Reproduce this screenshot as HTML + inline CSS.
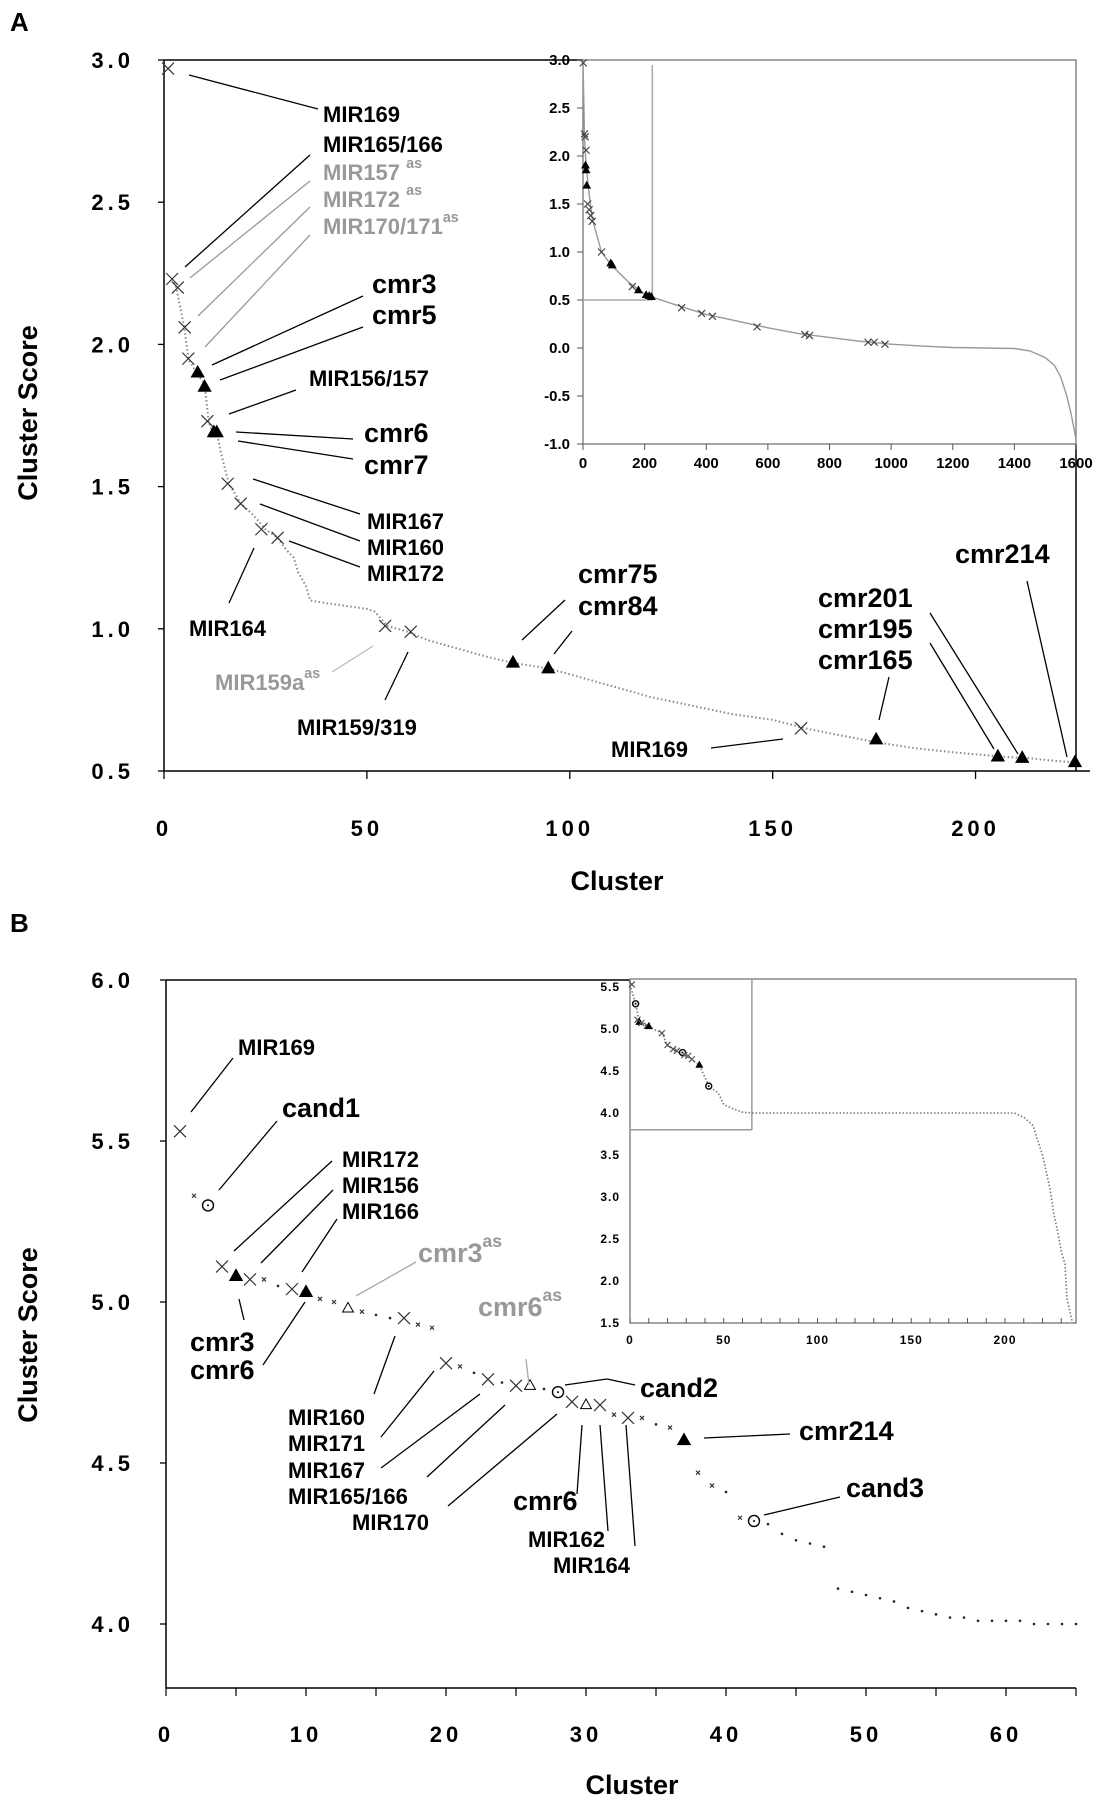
<!DOCTYPE html>
<html><head><meta charset="utf-8">
<style>
html,body{margin:0;padding:0;background:#fff}
svg{display:block}
text{font-family:"Liberation Sans",Arial,sans-serif;font-weight:bold}
</style></head>
<body>
<svg id="fig" width="1101" height="1800" viewBox="0 0 1101 1800" xmlns="http://www.w3.org/2000/svg"></svg>
<script>
// ---------- Panel A data ----------
const aCurveX = [2,3,5,6,8,10,11,12,13,14,16,19,22,25,28,30,32,33,35,36,40,45,50,52,55,60,65,70,75,80,86,95,100,110,120,130,140,150,158,165,176,185,195,207,213,220,225];
const aCurveY = [2.23,2.20,2.06,1.95,1.90,1.86,1.73,1.69,1.69,1.62,1.51,1.44,1.40,1.35,1.32,1.28,1.25,1.20,1.15,1.10,1.09,1.08,1.07,1.06,1.01,0.99,0.96,0.94,0.92,0.90,0.88,0.86,0.84,0.80,0.76,0.73,0.70,0.68,0.65,0.63,0.60,0.58,0.565,0.55,0.545,0.535,0.53];
const aCrossX = [1,2,3.4,5.1,6,10.7,15.7,18.9,24,28,54.5,60.8,157];
const aCrossY = [2.97,2.23,2.20,2.06,1.95,1.73,1.51,1.44,1.35,1.32,1.01,0.99,0.65];
const aTriX = [8.3,10,12.3,13,86,94.7,175.5,205.5,211.5,224.5];
const aTriY = [1.90,1.85,1.69,1.69,0.88,0.86,0.61,0.55,0.545,0.53];
const aXTicks = [0,50,100,150,200];
const aYTicks = [0.5,1.0,1.5,2.0,2.5,3.0];
// Panel A inset
const aiCurveX = [0,5,10,20,30,60,90,150,200,225,300,400,500,600,700,800,900,1000,1100,1200,1300,1400,1450,1500,1530,1550,1570,1585,1600];
const aiCurveY = [3.0,2.2,1.9,1.6,1.35,1.0,0.87,0.68,0.56,0.53,0.45,0.35,0.28,0.21,0.15,0.11,0.07,0.04,0.02,0.005,0.0,-0.005,-0.03,-0.1,-0.18,-0.3,-0.5,-0.7,-0.95];
const aiCrossX = [1,5,7,10,15,20,25,30,60,160,320,385,420,565,720,735,925,945,980];
const aiCrossY = [2.97,2.23,2.2,2.06,1.5,1.44,1.38,1.32,1.0,0.64,0.42,0.36,0.33,0.22,0.14,0.13,0.06,0.06,0.04];
const aiTriX = [8,10,12,90,95,180,205,215,222];
const aiTriY = [1.9,1.85,1.69,0.88,0.86,0.6,0.55,0.54,0.53];
const aiXTicks = [0,200,400,600,800,1000,1200,1400,1600];
const aiYTicks = [-1.0,-0.5,0.0,0.5,1.0,1.5,2.0,2.5,3.0];
// ---------- Panel B data ----------
const bX = [1,2,3,4,5,6,7,8,9,10,11,12,13,14,15,16,17,18,19,20,21,22,23,24,25,26,27,28,29,30,31,32,33,34,35,36,37,38,39,40,41,42,43,44,45,46,47,48,49,50,51,52,53,54,55,56,57,58,59,60,61,62,63,64,65];
const bY = [5.53,5.33,5.30,5.11,5.08,5.07,5.07,5.05,5.04,5.03,5.01,5.00,4.98,4.97,4.96,4.95,4.95,4.93,4.92,4.81,4.80,4.78,4.76,4.75,4.74,4.74,4.73,4.72,4.69,4.68,4.68,4.65,4.64,4.64,4.62,4.61,4.57,4.47,4.43,4.41,4.33,4.32,4.31,4.28,4.26,4.25,4.24,4.11,4.10,4.09,4.08,4.07,4.05,4.04,4.03,4.02,4.02,4.01,4.01,4.01,4.01,4.00,4.00,4.00,4.00];
const bType = ["X","x","o","X","T","X","x","d","X","T","x","x","t","x","d","d","X","x","x","X","x","d","X","d","X","t","d","o","X","t","X","x","X","x","d","x","T","x","x","d","x","o","d","d","d","d","d","d","d","d","d","d","d","d","d","d","d","d","d","d","d","d","d","d","d"];
const bXTicks = [0,10,20,30,40,50,60];
const bYTicks = [4.0,4.5,5.0,5.5,6.0];
// Panel B inset
const biCurveX = [0,3,5,10,17,20,25,30,37,42,47,50,55,60,65,100,150,200,205,210,215,217,220,222,224,226,228,230,232,233,236];
const biCurveY = [5.53,5.3,5.08,5.03,4.95,4.8,4.74,4.68,4.57,4.32,4.24,4.1,4.05,4.01,4.0,4.0,4.0,4.0,4.0,3.95,3.85,3.7,3.5,3.3,3.1,2.8,2.6,2.35,2.2,1.8,1.5];
const biXTicks = [0,50,100,150,200];
const biYTicks = [1.5,2.0,2.5,3.0,3.5,4.0,4.5,5.0,5.5];

const NS = "http://www.w3.org/2000/svg";
const svg = document.getElementById('fig');
const SM = 22, BG = 27;
function el(tag, attrs, parent, txt){
  const e = document.createElementNS(NS, tag);
  for (const k in attrs) e.setAttribute(k, attrs[k]);
  if (txt !== undefined) e.textContent = txt;
  (parent||svg).appendChild(e);
  return e;
}
function lin(d0,d1,r0,r1){return v=>r0+(v-d0)*(r1-r0)/(d1-d0);}
function cross(x,y,s,col,name,g){const p=el('path',{d:`M${x-s},${y-s}L${x+s},${y+s}M${x-s},${y+s}L${x+s},${y-s}`,stroke:col,'stroke-width':1.2,fill:'none'},g);

}
function tri(x,y,s,fill,name,g){const p=el('path',{d:`M${x},${y-s}L${x+s*0.9},${y+s*0.6}L${x-s*0.9},${y+s*0.6}Z`,fill:fill,stroke:'#000','stroke-width':1},g);

}
function circ(x,y,r,name,g){const p=el('circle',{cx:x,cy:y,r:r,fill:'#fff',stroke:'#000','stroke-width':1.4},g);


el('circle',{cx:x,cy:y,r:1,fill:'#000'},g);}
function line(x1,y1,x2,y2,col,w,name){const l=el('line',{x1,y1,x2,y2,stroke:col,'stroke-width':w||1.3});

return l;}
function label(x,y,t,size,col,sup,name){
  const tx=el('text',{x:x,y:y,'font-size':size,fill:col||'#000'},svg,t);
  
  
  if(sup){el('tspan',{dy:-size*0.55,'font-size':size*0.65},tx,sup);}
  return tx;
}
function path(xs,ys,fx,fy){return xs.map((v,i)=>(i?'L':'M')+fx(v).toFixed(1)+','+fy(ys[i]).toFixed(1)).join('');}

// ================= PANEL A =================
label(10,31,'A',26,'#000',null,'panel-a-label');
const ax = lin(0,225,164,1077), ay = lin(0.5,3.0,771,60);
line(164,60,164,771,'#000',1.5,'a-y-axis');
line(164,771,1090,771,'#000',1.5,'a-x-axis');
line(164,60,583,60,'#000',1.5,'a-top-border');
line(1076,444,1076,771,'#000',1.5,'a-right-border');
aXTicks.forEach(v=>{line(ax(v),771,ax(v),779,'#000',1.3,'a-x-tick');
 const t=el('text',{x:ax(v),y:836,'font-size':22,'text-anchor':'middle','letter-spacing':4},svg,v);
 
 });
aYTicks.forEach(v=>{line(158,ay(v),164,ay(v),'#000',1.3,'a-y-tick');
 const t=el('text',{x:134,y:ay(v)+8,'font-size':22,'text-anchor':'end','letter-spacing':4},svg,v.toFixed(1));
 
 });
let t1=el('text',{x:617,y:890,'font-size':27,'text-anchor':'middle'},svg,'Cluster');


let t2=el('text',{x:0,y:0,'font-size':27,'text-anchor':'middle',transform:'translate(37,413) rotate(-90)'},svg,'Cluster Score');


const gA = el('g',{});


let pa=el('path',{d:path(aCurveX,aCurveY,ax,ay),fill:'none',stroke:'#888','stroke-width':2,'stroke-dasharray':'1.5 2.5'},gA);


aCrossX.forEach((v,i)=>cross(ax(v),ay(aCrossY[i]),6,'#333','a-mir-marker',gA));
aTriX.forEach((v,i)=>tri(ax(v),ay(aTriY[i]),7,'#000','a-cmr-marker',gA));

// inset A
const iax = lin(0,1600,583,1076), iay = lin(-1,3,444,60);
let ib=el('rect',{x:583,y:60,width:493,height:384,fill:'#fff',stroke:'#777','stroke-width':1.3});


line(iax(225),65,iax(225),iay(0.5),'#aaa',1.5,'a-inset-zoom-vline');
line(583,iay(0.5),iax(225),iay(0.5),'#aaa',1.5,'a-inset-zoom-hline');
aiXTicks.forEach(v=>{line(iax(v),444,iax(v),450,'#555',1,'a-inset-x-tick');
 const t=el('text',{x:iax(v),y:468,'font-size':15,'text-anchor':'middle'},svg,v);
 
 });
aiYTicks.forEach(v=>{line(577,iay(v),583,iay(v),'#555',1,'a-inset-y-tick');
 const t=el('text',{x:570,y:iay(v)+5,'font-size':15,'text-anchor':'end'},svg,v.toFixed(1));
 
 });
const gAi = el('g',{});


let pai=el('path',{d:path(aiCurveX,aiCurveY,iax,iay),fill:'none',stroke:'#999','stroke-width':1.4},gAi);


aiCrossX.forEach((v,i)=>cross(iax(v),iay(aiCrossY[i]),3.5,'#444','a-inset-mir-marker',gAi));
aiTriX.forEach((v,i)=>tri(iax(v),iay(aiTriY[i]),4,'#000','a-inset-cmr-marker',gAi));

// labels A
const G='#999';
line(189,75,318,109,'#000');
label(323,122,'MIR169',SM,'#000',null,'label-mir169');
line(185,267,310,155,'#000');
label(323,152,'MIR165/166',SM,'#000',null,'label-mir165-166');
line(190,278,310,181,G);
label(323,180,'MIR157 ',SM,G,'as','label-mir157as');
line(198,316,310,207,G);
label(323,207,'MIR172 ',SM,G,'as','label-mir172as');
line(205,347,310,235,G);
label(323,234,'MIR170/171',SM,G,'as','label-mir170-171as');
line(212,365,363,296,'#000');
label(372,293,'cmr3',BG,'#000',null,'label-cmr3');
line(220,380,363,327,'#000');
label(372,324,'cmr5',BG,'#000',null,'label-cmr5');
line(229,414,296,390,'#000');
label(309,386,'MIR156/157',SM,'#000',null,'label-mir156-157');
line(236,432,353,439,'#000');
label(364,442,'cmr6',BG,'#000',null,'label-cmr6');
line(238,441,353,459,'#000');
label(364,474,'cmr7',BG,'#000',null,'label-cmr7');
line(253,479,360,514,'#000');
label(367,529,'MIR167',SM,'#000',null,'label-mir167');
line(260,504,360,541,'#000');
label(367,555,'MIR160',SM,'#000',null,'label-mir160');
line(289,541,360,567,'#000');
label(367,581,'MIR172',SM,'#000',null,'label-mir172');
line(254,548,229,603,'#000');
label(189,636,'MIR164',SM,'#000',null,'label-mir164');
line(522,640,565,600,'#000');
label(578,583,'cmr75',BG,'#000',null,'label-cmr75');
line(554,654,572,631,'#000');
label(578,615,'cmr84',BG,'#000',null,'label-cmr84');
line(373,646,332,672,'#bbb');
label(215,690,'MIR159a',SM,G,'as','label-mir159a-as');
line(408,652,385,700,'#000');
label(297,735,'MIR159/319',SM,'#000',null,'label-mir159-319');
line(711,748,783,739,'#000');
label(611,757,'MIR169',SM,'#000',null,'label-mir169-b');
label(818,607,'cmr201',BG,'#000',null,'label-cmr201');
label(818,638,'cmr195',BG,'#000',null,'label-cmr195');
label(818,669,'cmr165',BG,'#000',null,'label-cmr165');
line(879,720,889,677,'#000');
line(994,749,930,643,'#000');
line(1018,754,930,613,'#000');
line(1067,757,1027,581,'#000');
label(955,563,'cmr214',BG,'#000',null,'label-cmr214');

// ================= PANEL B =================
label(10,932,'B',26,'#000',null,'panel-b-label');
const bx = lin(0,65,166,1076), by = lin(4.0,6.0,1624,980);
line(166,980,166,1688,'#000',1.5,'b-y-axis');
line(166,1688,1076,1688,'#000',1.5,'b-x-axis');
line(166,980,634,980,'#000',1.5,'b-top-border');
for(let v=0;v<=65;v+=5){line(bx(v),1688,bx(v),1696,'#000',1.2,'b-x-tick');}
bXTicks.forEach(v=>{const t=el('text',{x:bx(v),y:1742,'font-size':22,'text-anchor':'middle','letter-spacing':4},svg,v);
 
 });
bYTicks.forEach(v=>{line(160,by(v),166,by(v),'#000',1.3,'b-y-tick');
 const t=el('text',{x:134,y:by(v)+8,'font-size':22,'text-anchor':'end','letter-spacing':4},svg,v.toFixed(1));
 
 });
let t3=el('text',{x:632,y:1794,'font-size':27,'text-anchor':'middle'},svg,'Cluster');


let t4=el('text',{x:0,y:0,'font-size':27,'text-anchor':'middle',transform:'translate(37,1335) rotate(-90)'},svg,'Cluster Score');


const gB = el('g',{});


bX.forEach((v,i)=>{const x=bx(v),y=by(bY[i]),k=bType[i];
 if(k==='X')cross(x,y,6,'#333','b-mir-marker',gB);
 else if(k==='x')cross(x,y,2,'#333','b-minor-marker',gB);
 else if(k==='o')circ(x,y,5.5,'b-cand-marker',gB);
 else if(k==='T')tri(x,y,7,'#000','b-cmr-marker',gB);
 else if(k==='t')tri(x,y,6,'#fff','b-cmr-as-marker',gB);
 else {const d=el('circle',{cx:x,cy:y,r:1.3,fill:'#222'},gB);
  
  }
});

// inset B
const ibx = lin(0,200,630,1005), iby = lin(1.5,4.0,1323,1113);
let ib2=el('rect',{x:630,y:979,width:446,height:344,fill:'#fff',stroke:'#777','stroke-width':1.3});


line(ibx(65),979,ibx(65),iby(3.8),'#999',1.5,'b-inset-zoom-vline');
line(630,iby(3.8),ibx(65),iby(3.8),'#999',1.5,'b-inset-zoom-hline');
for(let v=0;v<=235;v+=10){line(ibx(v),1323,ibx(v),1318,'#555',1,'b-inset-x-tick');}
biXTicks.forEach(v=>{const t=el('text',{x:ibx(v),y:1344,'font-size':12,'text-anchor':'middle','letter-spacing':1},svg,v);
 
 });
biYTicks.forEach(v=>{const t=el('text',{x:620,y:iby(v)+4,'font-size':12,'text-anchor':'end','letter-spacing':1},svg,v.toFixed(1));
 
 });
const gBi = el('g',{});


let pbi=el('path',{d:path(biCurveX,biCurveY,ibx,iby),fill:'none',stroke:'#777','stroke-width':1.6,'stroke-dasharray':'1.5 2'},gBi);


bX.forEach((v,i)=>{const k=bType[i];if(v>47)return;const x=ibx(v),y=iby(bY[i]);
 if(k==='X')cross(x,y,3,'#555','b-inset-mir-marker',gBi);
 else if(k==='o')circ(x,y,3,'b-inset-cand-marker',gBi);
 else if(k==='T')tri(x,y,3.5,'#000','b-inset-cmr-marker',gBi);});

// labels B
line(191,1112,233,1058,'#000');
label(238,1055,'MIR169',SM,'#000',null,'label-b-mir169');
line(219,1190,277,1121,'#000');
label(282,1117,'cand1',BG,'#000',null,'label-cand1');
line(234,1251,332,1161,'#000');
label(342,1167,'MIR172',SM,'#000',null,'label-b-mir172');
line(261,1263,333,1190,'#000');
label(342,1193,'MIR156',SM,'#000',null,'label-b-mir156');
line(302,1272,337,1219,'#000');
label(342,1219,'MIR166',SM,'#000',null,'label-b-mir166');
line(356,1296,416,1262,'#aaa');
label(418,1262,'cmr3',BG,G,'as','label-cmr3as');
line(244,1320,239,1299,'#000');
label(190,1351,'cmr3',BG,'#000',null,'label-b-cmr3');
line(263,1365,305,1302,'#000');
label(190,1379,'cmr6',BG,'#000',null,'label-b-cmr6');
line(529,1385,526,1359,'#aaa');
label(478,1316,'cmr6',BG,G,'as','label-cmr6as');
line(374,1394,395,1336,'#000');
label(288,1425,'MIR160',SM,'#000',null,'label-b-mir160');
line(381,1437,434,1371,'#000');
label(288,1451,'MIR171',SM,'#000',null,'label-b-mir171');
line(381,1468,480,1394,'#000');
label(288,1478,'MIR167',SM,'#000',null,'label-b-mir167');
line(427,1477,505,1405,'#000');
label(288,1504,'MIR165/166',SM,'#000',null,'label-b-mir165-166');
line(448,1506,557,1414,'#000');
label(352,1530,'MIR170',SM,'#000',null,'label-b-mir170');
line(565,1385,607,1379,'#000');
line(607,1379,635,1385,'#000');
label(640,1397,'cand2',BG,'#000',null,'label-cand2');
line(577,1494,582,1425,'#000');
label(513,1510,'cmr6',BG,'#000',null,'label-b-cmr6-2');
line(608,1531,600,1425,'#000');
label(528,1547,'MIR162',SM,'#000',null,'label-b-mir162');
line(635,1546,626,1425,'#000');
label(553,1573,'MIR164',SM,'#000',null,'label-b-mir164');
line(704,1438,790,1434,'#000');
label(799,1440,'cmr214',BG,'#000',null,'label-b-cmr214');
line(764,1515,840,1497,'#000');
label(846,1497,'cand3',BG,'#000',null,'label-cand3');
</script>
</body></html>
